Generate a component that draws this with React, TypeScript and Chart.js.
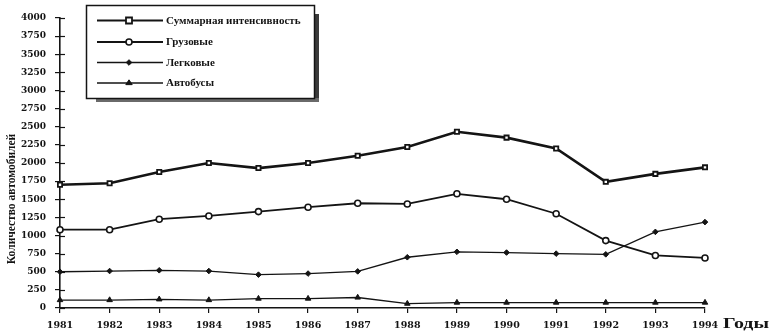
import React, { useEffect, useRef } from "react";
import { Chart, registerables } from "chart.js";

Chart.register(...registerables);

const years = ["1981", "1982", "1983", "1984", "1985", "1986", "1987", "1988", "1989", "1990", "1991", "1992", "1993", "1994"];
const totalValues = [1700, 1720, 1875, 2000, 1930, 2000, 2100, 2220, 2430, 2350, 2200, 1740, 1850, 1940];
const cargoValues = [1080, 1080, 1225, 1270, 1330, 1390, 1445, 1435, 1575, 1500, 1300, 930, 725, 690];
const carValues = [500, 510, 520, 510, 460, 475, 505, 700, 775, 765, 750, 740, 1050, 1185];
const busValues = [110, 110, 120, 110, 130, 130, 145, 60, 75, 75, 75, 75, 75, 75];
const seriesNames = ["Суммарная интенсивность", "Грузовые", "Легковые", "Автобусы"];
const yTitle = "Количество автомобилей";
const xTitle = "Годы";

const INK = "#141414";
const SERIF = "'Liberation Serif', 'Times New Roman', serif";
const TICK_SERIF = "'DejaVu Serif', serif";

function drawMarker(ctx: CanvasRenderingContext2D, style: string, x: number, y: number, r: number, fill: string, stroke: string, bw: number) {
  ctx.save();
  ctx.beginPath();
  if (style === "rect") {
    ctx.rect(x - r, y - r, 2 * r, 2 * r);
  } else if (style === "circle") {
    ctx.arc(x, y, r, 0, Math.PI * 2);
  } else if (style === "rectRot") {
    ctx.moveTo(x, y - r);
    ctx.lineTo(x + r, y);
    ctx.lineTo(x, y + r);
    ctx.lineTo(x - r, y);
    ctx.closePath();
  } else if (style === "triangle") {
    const h = r * 1.5;
    ctx.moveTo(x, y - h * 0.66);
    ctx.lineTo(x + r, y + h * 0.34);
    ctx.lineTo(x - r, y + h * 0.34);
    ctx.closePath();
  }
  ctx.fillStyle = fill;
  ctx.fill();
  ctx.lineWidth = bw;
  ctx.strokeStyle = stroke;
  ctx.stroke();
  ctx.restore();
}

const decorPlugin = {
  id: "decor",
  afterDraw(chart: any) {
    const ctx: CanvasRenderingContext2D = chart.ctx;
    const area = chart.chartArea;
    const yScale = chart.scales.y;
    ctx.save();
    // inner ticks on the y axis
    ctx.strokeStyle = INK;
    ctx.lineWidth = 1.2;
    yScale.ticks.forEach((t: any) => {
      const py = Math.round(yScale.getPixelForValue(t.value)) + 0.5;
      ctx.beginPath();
      ctx.moveTo(area.left, py);
      ctx.lineTo(area.left + 5, py);
      ctx.stroke();
    });
    // y title
    ctx.save();
    ctx.translate(12, 199);
    ctx.rotate(-Math.PI / 2);
    ctx.fillStyle = INK;
    ctx.font = `bold 11.5px ${SERIF}`;
    ctx.textAlign = "center";
    ctx.textBaseline = "middle";
    ctx.fillText(yTitle, 0, 0);
    ctx.restore();
    // x title (stretched horizontally like the scan)
    ctx.save();
    ctx.fillStyle = INK;
    ctx.font = `bold 14px ${SERIF}`;
    ctx.textAlign = "left";
    ctx.textBaseline = "middle";
    const w = ctx.measureText(xTitle).width;
    ctx.translate(723, 324.5);
    ctx.scale(46 / w, 1);
    ctx.fillText(xTitle, 0, 0);
    ctx.restore();

    // legend box
    const bx = 86, by = 5, bw = 228, bh = 93;
    ctx.fillStyle = "#3a3a3a";
    ctx.fillRect(bx + bw, by + 9, 5, bh - 5);
    ctx.fillStyle = "#6a6a6a";
    ctx.fillRect(bx + 10, by + bh, bw - 5, 4);
    ctx.fillStyle = "#ffffff";
    ctx.fillRect(bx, by, bw, bh);
    ctx.strokeStyle = INK;
    ctx.lineWidth = 1.5;
    ctx.strokeRect(bx + 0.5, by + 0.5, bw, bh);

    const rowsY = [20.5, 42, 62.5, 83];
    chart.data.datasets.forEach((ds: any, i: number) => {
      const ry = rowsY[i];
      ctx.strokeStyle = INK;
      ctx.lineWidth = Math.min(ds.borderWidth, 2);
      ctx.beginPath();
      ctx.moveTo(97, ry);
      ctx.lineTo(163, ry);
      ctx.stroke();
      drawMarker(ctx, ds.pointStyle, 129, ry, ds.pointRadius, ds.pointBackgroundColor, ds.pointBorderColor, ds.pointBorderWidth);
      ctx.fillStyle = INK;
      ctx.font = `bold 11px ${SERIF}`;
      ctx.textAlign = "left";
      ctx.textBaseline = "middle";
      ctx.fillText(ds.label, 166, ry + 0.5);
    });
    ctx.restore();
  },
};

export default function App() {
  const canvasRef = useRef<HTMLCanvasElement | null>(null);

  useEffect(() => {
    if (!canvasRef.current) return;
    const mk = (label: string, data: number[], bw: number, style: string, r: number, fill: string, pbw: number) => ({
      label,
      data,
      borderColor: INK,
      backgroundColor: INK,
      borderWidth: bw,
      pointStyle: style,
      pointRadius: r,
      pointBackgroundColor: fill,
      pointBorderColor: INK,
      pointBorderWidth: pbw,
      tension: 0,
      fill: false,
    });
    const chart = new Chart(canvasRef.current, {
      type: "line",
      data: {
        labels: years,
        datasets: [
          mk(seriesNames[0], totalValues, 2.6, "rect", 3, "#ffffff", 1.8),
          mk(seriesNames[1], cargoValues, 1.8, "circle", 3, "#ffffff", 1.6),
          mk(seriesNames[2], carValues, 1.3, "rectRot", 2.8, INK, 1),
          mk(seriesNames[3], busValues, 1.3, "triangle", 3.2, INK, 1),
        ],
      },
      options: {
        responsive: false,
        animation: false,
        layout: { padding: { left: 0, right: 72, top: 18, bottom: 0 } },
        plugins: {
          legend: { display: false },
          tooltip: { enabled: false },
          title: { display: false },
        },
        scales: {
          x: {
            type: "category",
            offset: false,
            grid: { display: true, drawOnChartArea: false, drawTicks: true, tickLength: 5, color: INK, lineWidth: 1.2 },
            border: { display: true, color: INK, width: 1.6 },
            ticks: {
              color: INK,
              font: { family: TICK_SERIF, weight: "bold", size: 9.5 },
              padding: 7,
              maxRotation: 0,
              autoSkip: false,
            },
            afterFit: (scale: any) => {
              scale.height = 28;
            },
          },
          y: {
            min: 0,
            max: 4000,
            grid: { display: true, drawOnChartArea: false, drawTicks: true, tickLength: 5, color: INK, lineWidth: 1.2 },
            border: { display: true, color: INK, width: 1.6 },
            ticks: {
              stepSize: 250,
              color: INK,
              font: { family: TICK_SERIF, weight: "bold", size: 9 },
              padding: 9,
              callback: (v: any) => String(v),
            },
            afterFit: (scale: any) => {
              scale.width = 60;
            },
          },
        },
      },
      plugins: [decorPlugin],
    } as any);
    return () => chart.destroy();
  }, []);

  return (
    <div style={{ position: "fixed", left: 0, top: 0, width: 777, height: 336, background: "#ffffff" }}>
      <canvas ref={canvasRef} width={777} height={336} style={{ display: "block" }} />
    </div>
  );
}
